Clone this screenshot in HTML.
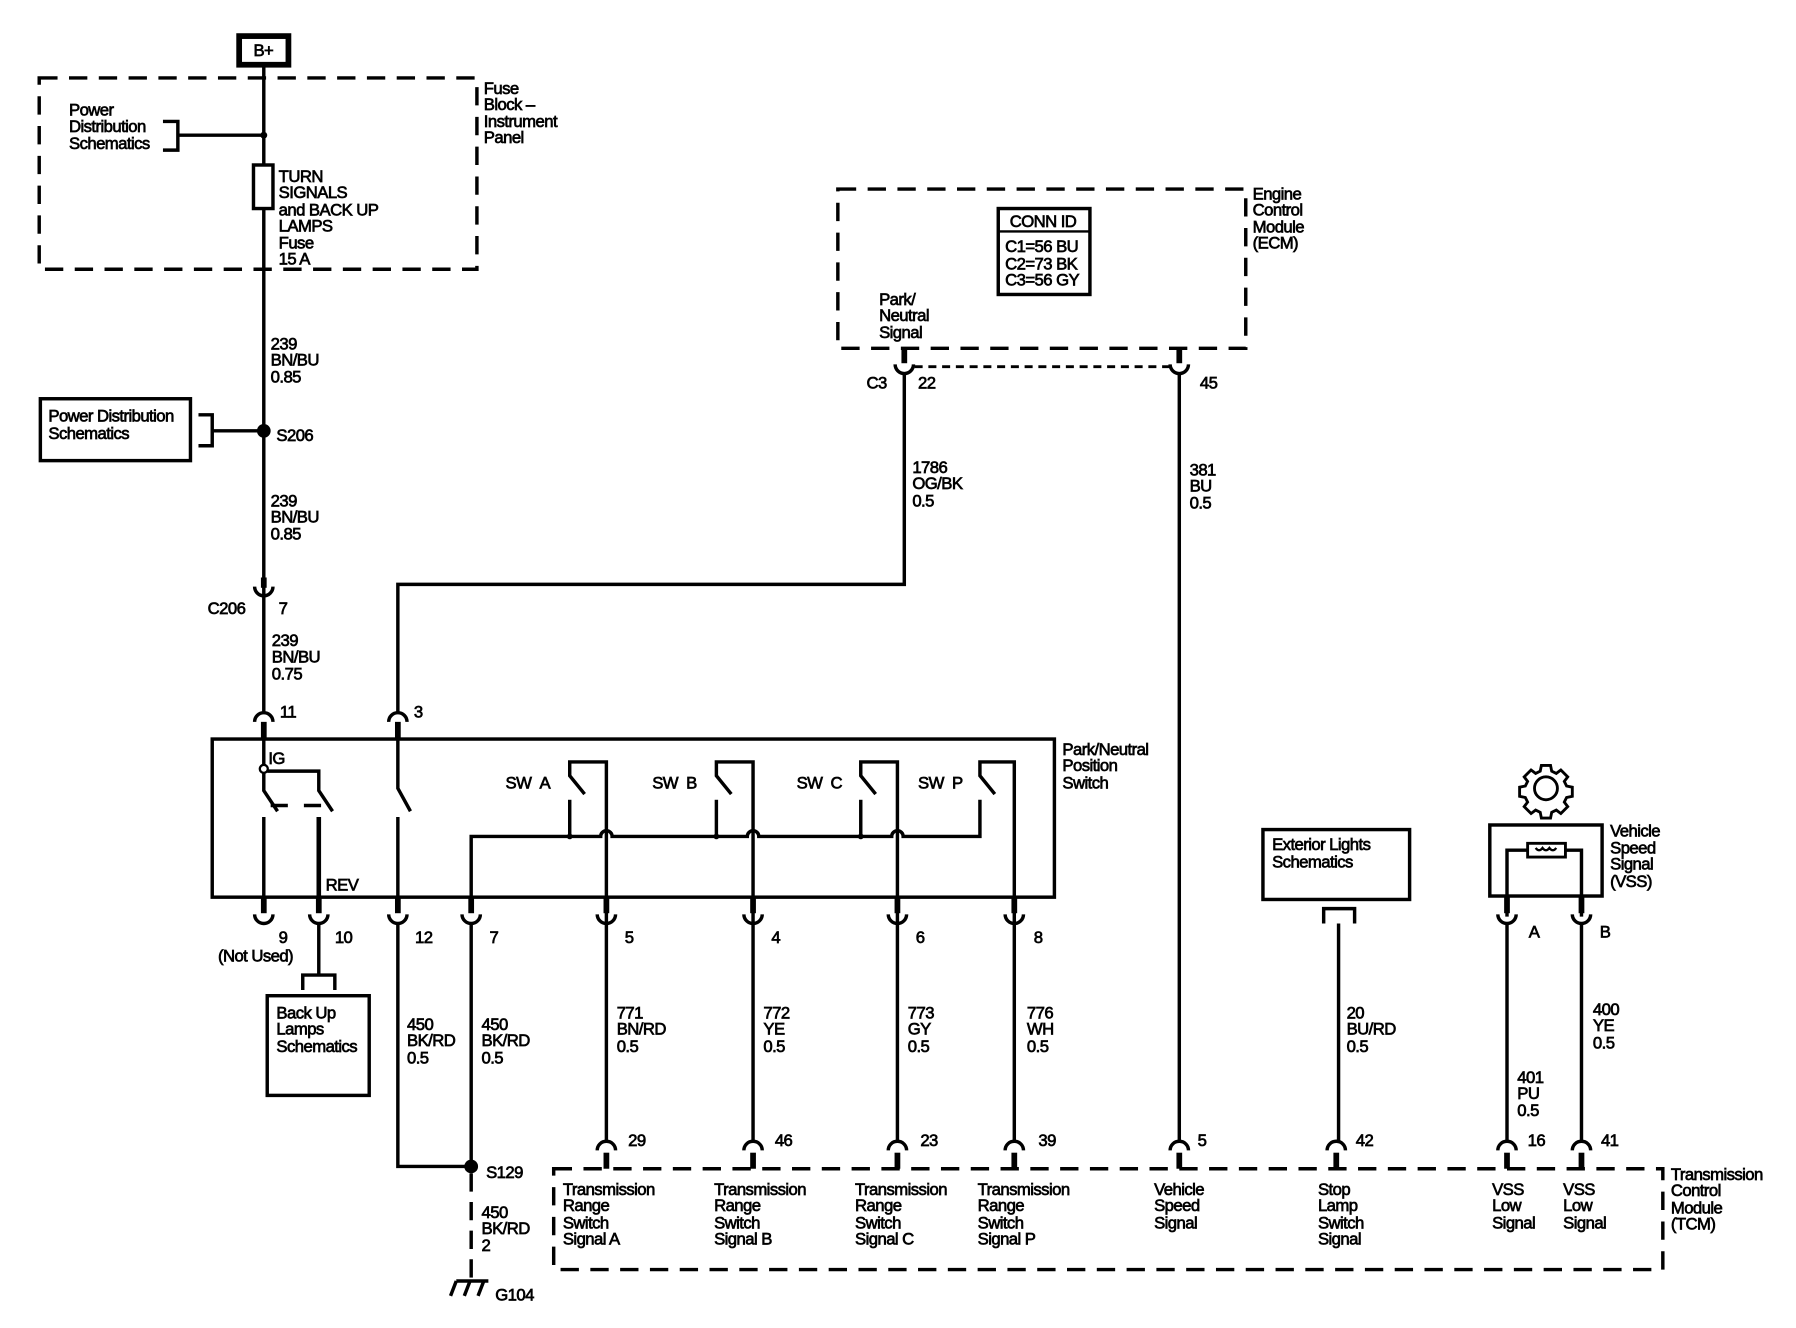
<!DOCTYPE html>
<html><head><meta charset="utf-8"><style>
html,body{margin:0;padding:0;background:#fff}
svg{display:block}
text{font-family:"Liberation Sans",sans-serif;font-size:14.6px;fill:#000;stroke:#000;stroke-width:0.6;letter-spacing:-0.5px}
</style></head><body>
<svg width="1796" height="1328" viewBox="0 0 1567 1159" xmlns="http://www.w3.org/2000/svg">
<rect x="0" y="0" width="1567" height="1159" fill="#fff"/>
<g fill="none" stroke="#000" stroke-width="3">
<rect x="208.5" y="31.5" width="43" height="25" stroke-width="5"/>
<rect x="34" y="68" width="382" height="167" stroke-dasharray="16,10"/>
<line x1="230" y1="58" x2="230" y2="622"/>
<rect x="221" y="144" width="17" height="38" fill="#fff"/>
<polyline points="142,106 155,106 155,131 142,131"/>
<line x1="155" y1="118" x2="230" y2="118"/>
<rect x="35" y="348" width="131" height="54"/>
<polyline points="173,362 185,362 185,389 173,389"/>
<line x1="185" y1="376" x2="230" y2="376"/>
<path d="M222 512 A8 8 0 0 0 238 512"/>
<polyline points="347,622 347,510 789,510 789,326"/>
<rect x="185" y="645" width="735" height="138"/>
<line x1="230" y1="645" x2="230" y2="668"/>
<polyline points="233,673 278,673 278,690 290,708"/>
<polyline points="230,674 230,690 242,708"/>
<line x1="236" y1="703" x2="251" y2="703"/>
<line x1="265" y1="703" x2="280" y2="703"/>
<line x1="230" y1="713" x2="230" y2="783"/>
<line x1="278" y1="713" x2="278" y2="783" stroke-width="4"/>
<polyline points="347,645 347,688 358,708"/>
<line x1="347" y1="713" x2="347" y2="783"/>
<path d="M411 783 V730 H524 A5 5 0 0 1 534 730 H652 A5 5 0 0 1 662 730 H778 A5 5 0 0 1 788 730 H855 V698"/>
<polyline points="497,730 497,698"/><polyline points="510,693 497,677 497,665 529,665 529,806"/>
<polyline points="625,730 625,698"/><polyline points="638,693 625,677 625,665 657,665 657,806"/>
<polyline points="751,730 751,698"/><polyline points="764,693 751,677 751,665 783,665 783,806"/>
<polyline points="868,693 855,677 855,665 885,665 885,806"/>
<polyline points="278,806 278,851"/>
<polyline points="264,864 264,851 292,851 292,864"/>
<rect x="233" y="869" width="89" height="87"/>
<polyline points="347,806 347,1018 411,1018"/>
<line x1="411" y1="806" x2="411" y2="1018"/>
<line x1="411" y1="1024" x2="411" y2="1115" stroke-dasharray="16,9"/>
<line x1="398" y1="1118" x2="426" y2="1118"/>
<line x1="398" y1="1118" x2="393" y2="1131"/>
<line x1="410" y1="1118" x2="405" y2="1131"/>
<line x1="422" y1="1118" x2="417" y2="1131"/>
<line x1="529" y1="806" x2="529" y2="996"/>
<line x1="657" y1="806" x2="657" y2="996"/>
<line x1="783" y1="806" x2="783" y2="996"/>
<line x1="885" y1="806" x2="885" y2="996"/>
<rect x="731" y="165" width="356" height="139" stroke-dasharray="16,10"/>
<rect x="871" y="182" width="80" height="75"/>
<line x1="871" y1="202" x2="951" y2="202" stroke-width="2"/>
<line x1="798" y1="320" x2="1020" y2="320" stroke-dasharray="7,5" stroke-width="2.5"/>
<line x1="1029" y1="326" x2="1029" y2="996"/>
<rect x="1102" y="724" width="128" height="61"/>
<polyline points="1155,806 1155,793 1182,793 1182,806"/>
<line x1="1168" y1="806" x2="1168" y2="996"/>
<rect x="1300" y="720" width="98" height="62"/>
<polyline points="1315,800 1315,742 1333,742"/>
<polyline points="1366,742 1380,742 1380,800"/>
<rect x="1333" y="736" width="33" height="12" stroke-width="2.5"/>
<path d="M1340 740 q3 4 6 0 q3 4 6 0 q3 4 6 0" stroke-width="2"/>
<line x1="1315" y1="806" x2="1315" y2="996"/>
<line x1="1380" y1="806" x2="1380" y2="996"/>
<circle cx="1349" cy="688" r="10" stroke-width="2.5"/>
<path d="M1345 668 h8 l1 5 l4 2 l4 -3 l6 6 l-3 4 l2 4 l5 1 v8 l-5 1 l-2 4 l3 4 l-6 6 l-4 -3 l-4 2 l-1 5 h-8 l-1 -5 l-4 -2 l-4 3 l-6 -6 l3 -4 l-2 -4 l-5 -1 v-8 l5 -1 l2 -4 l-3 -4 l6 -6 l4 3 l4 -2 z" stroke-width="2.5"/>
<rect x="483" y="1020" width="968" height="88" stroke-dasharray="16,10"/>
</g>
<g fill="none" stroke="#000" stroke-width="3">
<path d="M222 630 A8 8 0 0 1 238 630"/><path d="M339 630 A8 8 0 0 1 355 630"/>
<path d="M521 1004 A8 8 0 0 1 537 1004"/><path d="M649 1004 A8 8 0 0 1 665 1004"/>
<path d="M775 1004 A8 8 0 0 1 791 1004"/><path d="M877 1004 A8 8 0 0 1 893 1004"/>
<path d="M1021 1004 A8 8 0 0 1 1037 1004"/><path d="M1158 1004 A8 8 0 0 1 1174 1004"/>
<path d="M1307 1004 A8 8 0 0 1 1323 1004"/><path d="M1372 1004 A8 8 0 0 1 1388 1004"/>
<path d="M222 798 A8 8 0 0 0 238 798"/><path d="M270 798 A8 8 0 0 0 286 798"/>
<path d="M339 798 A8 8 0 0 0 355 798"/><path d="M403 798 A8 8 0 0 0 419 798"/>
<path d="M521 798 A8 8 0 0 0 537 798"/><path d="M649 798 A8 8 0 0 0 665 798"/>
<path d="M775 798 A8 8 0 0 0 791 798"/><path d="M877 798 A8 8 0 0 0 893 798"/>
<path d="M1307 798 A8 8 0 0 0 1323 798"/><path d="M1372 798 A8 8 0 0 0 1388 798"/>
<path d="M781 318 A8 8 0 0 0 797 318"/><path d="M1021 318 A8 8 0 0 0 1037 318"/>
</g>
<g fill="#000">
<rect x="227.5" y="630" width="5" height="15"/><rect x="344.5" y="630" width="5" height="15"/>
<rect x="227.5" y="504" width="5" height="9"/>
<rect x="526.5" y="1006" width="5" height="14"/><rect x="654.5" y="1006" width="5" height="14"/>
<rect x="780.5" y="1006" width="5" height="14"/><rect x="882.5" y="1006" width="5" height="14"/>
<rect x="1026.5" y="1006" width="5" height="14"/><rect x="1163.5" y="1006" width="5" height="14"/>
<rect x="1312.5" y="1006" width="5" height="14"/><rect x="1377.5" y="1006" width="5" height="14"/>
<rect x="227.5" y="783" width="5" height="14"/><rect x="275.5" y="783" width="5" height="14"/>
<rect x="344.5" y="783" width="5" height="14"/><rect x="408.5" y="783" width="5" height="14"/>
<rect x="526.5" y="783" width="5" height="14"/><rect x="654.5" y="783" width="5" height="14"/>
<rect x="780.5" y="783" width="5" height="14"/><rect x="882.5" y="783" width="5" height="14"/>
<rect x="1312.5" y="782" width="5" height="15"/><rect x="1377.5" y="782" width="5" height="15"/>
<rect x="786.5" y="304" width="5" height="13"/><rect x="1026.5" y="304" width="5" height="13"/>
<circle cx="230" cy="118" r="3"/><circle cx="230" cy="376" r="6"/><circle cx="411" cy="1018" r="6"/>
<circle cx="497" cy="730" r="2.5"/><circle cx="625" cy="730" r="2.5"/><circle cx="751" cy="730" r="2.5"/>
</g>
<circle cx="230" cy="671" r="3.5" fill="#fff" stroke="#000" stroke-width="2"/>
<text x="221" y="49">B+</text>
<text x="60" y="101">Power</text><text x="60" y="115">Distribution</text><text x="60" y="130">Schematics</text>
<text x="422" y="82">Fuse</text><text x="422" y="96">Block –</text><text x="422" y="111">Instrument</text><text x="422" y="125">Panel</text>
<text x="243" y="159">TURN</text><text x="243" y="173">SIGNALS</text><text x="243" y="188">and BACK UP</text><text x="243" y="202">LAMPS</text><text x="243" y="217">Fuse</text><text x="243" y="231">15 A</text>
<text x="236" y="305">239</text><text x="236" y="319">BN/BU</text><text x="236" y="334">0.85</text>
<text x="42" y="368">Power Distribution</text><text x="42" y="383">Schematics</text>
<text x="241" y="385">S206</text>
<text x="236" y="442">239</text><text x="236" y="456">BN/BU</text><text x="236" y="471">0.85</text>
<text x="181" y="536">C206</text><text x="243" y="536">7</text>
<text x="237" y="564">239</text><text x="237" y="578">BN/BU</text><text x="237" y="593">0.75</text>
<text x="244" y="626">11</text><text x="361" y="626">3</text>
<text x="927" y="659">Park/Neutral</text><text x="927" y="673">Position</text><text x="927" y="688">Switch</text>
<text x="234" y="667">IG</text><text x="284" y="777">REV</text>
<text x="441" y="688">SW&#160;&#160;A</text><text x="569" y="688">SW&#160;&#160;B</text><text x="695" y="688">SW&#160;&#160;C</text><text x="801" y="688">SW&#160;&#160;P</text>
<text x="243" y="823">9</text><text x="292" y="823">10</text><text x="362" y="823">12</text><text x="427" y="823">7</text>
<text x="545" y="823">5</text><text x="673" y="823">4</text><text x="799" y="823">6</text><text x="902" y="823">8</text>
<text x="190" y="839">(Not Used)</text>
<text x="241" y="889">Back Up</text><text x="241" y="903">Lamps</text><text x="241" y="918">Schematics</text>
<text x="355" y="899">450</text><text x="355" y="913">BK/RD</text><text x="355" y="928">0.5</text>
<text x="420" y="899">450</text><text x="420" y="913">BK/RD</text><text x="420" y="928">0.5</text>
<text x="538" y="889">771</text><text x="538" y="903">BN/RD</text><text x="538" y="918">0.5</text>
<text x="666" y="889">772</text><text x="666" y="903">YE</text><text x="666" y="918">0.5</text>
<text x="792" y="889">773</text><text x="792" y="903">GY</text><text x="792" y="918">0.5</text>
<text x="896" y="889">776</text><text x="896" y="903">WH</text><text x="896" y="918">0.5</text>
<text x="424" y="1028">S129</text>
<text x="420" y="1063">450</text><text x="420" y="1077">BK/RD</text><text x="420" y="1092">2</text>
<text x="432" y="1135">G104</text>
<text x="548" y="1000">29</text><text x="676" y="1000">46</text><text x="803" y="1000">23</text><text x="906" y="1000">39</text>
<text x="1045" y="1000">5</text><text x="1183" y="1000">42</text><text x="1333" y="1000">16</text><text x="1397" y="1000">41</text>
<text x="491" y="1043">Transmission</text><text x="491" y="1057">Range</text><text x="491" y="1072">Switch</text><text x="491" y="1086">Signal A</text>
<text x="623" y="1043">Transmission</text><text x="623" y="1057">Range</text><text x="623" y="1072">Switch</text><text x="623" y="1086">Signal B</text>
<text x="746" y="1043">Transmission</text><text x="746" y="1057">Range</text><text x="746" y="1072">Switch</text><text x="746" y="1086">Signal C</text>
<text x="853" y="1043">Transmission</text><text x="853" y="1057">Range</text><text x="853" y="1072">Switch</text><text x="853" y="1086">Signal P</text>
<text x="1007" y="1043">Vehicle</text><text x="1007" y="1057">Speed</text><text x="1007" y="1072">Signal</text>
<text x="1150" y="1043">Stop</text><text x="1150" y="1057">Lamp</text><text x="1150" y="1072">Switch</text><text x="1150" y="1086">Signal</text>
<text x="1302" y="1043">VSS</text><text x="1302" y="1057">Low</text><text x="1302" y="1072">Signal</text>
<text x="1364" y="1043">VSS</text><text x="1364" y="1057">Low</text><text x="1364" y="1072">Signal</text>
<text x="1458" y="1030">Transmission</text><text x="1458" y="1044">Control</text><text x="1458" y="1059">Module</text><text x="1458" y="1073">(TCM)</text>
<text x="1093" y="174">Engine</text><text x="1093" y="188">Control</text><text x="1093" y="203">Module</text><text x="1093" y="217">(ECM)</text>
<text x="881" y="198">CONN ID</text>
<text x="877" y="220">C1=56 BU</text><text x="877" y="235">C2=73 BK</text><text x="877" y="249">C3=56 GY</text>
<text x="767" y="266">Park/</text><text x="767" y="280">Neutral</text><text x="767" y="295">Signal</text>
<text x="756" y="339">C3</text><text x="801" y="339">22</text><text x="1047" y="339">45</text>
<text x="796" y="413">1786</text><text x="796" y="427">OG/BK</text><text x="796" y="442">0.5</text>
<text x="1038" y="415">381</text><text x="1038" y="429">BU</text><text x="1038" y="444">0.5</text>
<text x="1110" y="742">Exterior Lights</text><text x="1110" y="757">Schematics</text>
<text x="1175" y="889">20</text><text x="1175" y="903">BU/RD</text><text x="1175" y="918">0.5</text>
<text x="1405" y="730">Vehicle</text><text x="1405" y="745">Speed</text><text x="1405" y="759">Signal</text><text x="1405" y="774">(VSS)</text>
<text x="1334" y="818">A</text><text x="1396" y="818">B</text>
<text x="1324" y="945">401</text><text x="1324" y="959">PU</text><text x="1324" y="974">0.5</text>
<text x="1390" y="886">400</text><text x="1390" y="900">YE</text><text x="1390" y="915">0.5</text>
</svg>
</body></html>
